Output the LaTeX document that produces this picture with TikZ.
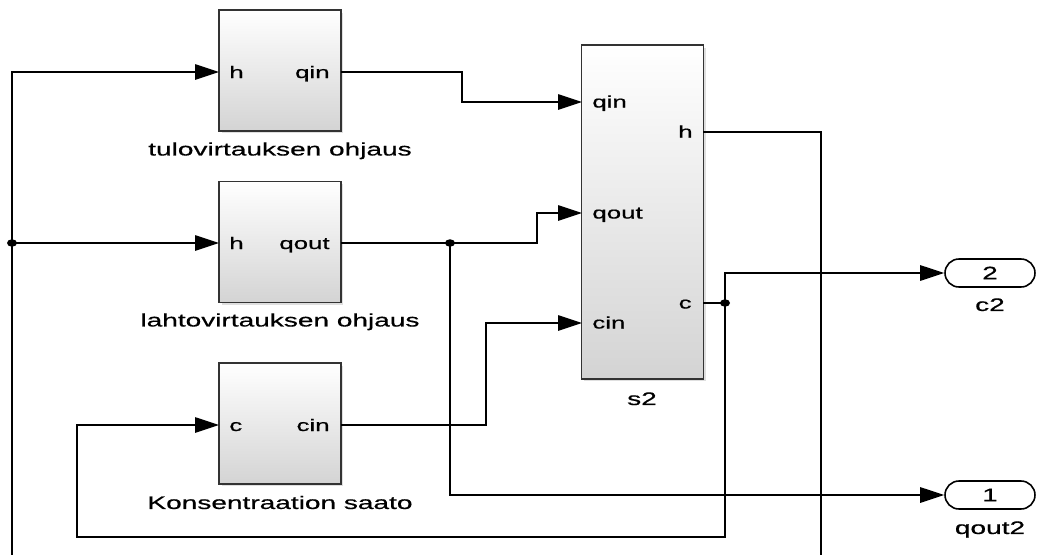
\documentclass[tikz,border=0pt]{standalone}
\usepackage{fontspec}
\setmainfont[FakeStretch=1.55,FakeBold=0.6]{Liberation Sans}
\usetikzlibrary{arrows.meta,shadows}

\begin{document}
\begin{tikzpicture}[x=0.02cm,y=-0.02cm,
    blk/.style={draw=black!80, line width=1.1pt, top color=white, bottom color=black!17,
      minimum width=2.44cm, inner sep=0pt,
      drop shadow={shadow xshift=0.05cm, shadow yshift=-0.05cm, opacity=0.25}},
    sig/.style={line width=0.7pt},
    arr/.style={sig, -{Triangle[length=0.48cm,width=0.31cm]}},
    port/.style={font=\fontsize{9.5}{10}\selectfont, inner sep=0pt},
    lbl/.style={font=\fontsize{10.3}{12}\selectfont, inner sep=0pt, anchor=north},
    oport/.style={draw, line width=0.9pt, rounded corners=0.28cm, minimum width=1.8cm,
      minimum height=0.56cm, inner sep=0pt, font=\fontsize{10.3}{12}\selectfont}]
    \useasboundingbox (0,0) rectangle (1039,555);

    % subsystems
    \node[blk, minimum height=2.42cm] (tulo) at (280,70.5) {};
    \node[blk, minimum height=2.42cm] (lahto) at (280,242) {};
    \node[blk, minimum height=2.42cm] (kons) at (280,423.5) {};
    \node[blk, minimum height=6.68cm] (s2) at (642.5,212) {};

    \node[lbl] (tulolbl) at (280,142) {tulovirtauksen ohjaus};
    \node[lbl] (lahtolbl) at (280,313) {lahtovirtauksen ohjaus};
    \node[lbl] (konslbl) at (280,495.5) {Konsentraation saato};
    \node[lbl] (s2lbl) at (642,392) {s2};

    % port names
    \node[port, anchor=base west] (tulo-hl) at (229,78) {h};
    \node[port, anchor=base east] (tulo-qinl) at (330,78) {qin};
    \node[port, anchor=base west] (lahto-hl) at (229,249) {h};
    \node[port, anchor=base east] (lahto-qoutl) at (330,249) {qout};
    \node[port, anchor=base west] (kons-cl) at (229,431) {c};
    \node[port, anchor=base east] (kons-cinl) at (330,431) {cin};
    \node[port, anchor=base west] (s2-qinl) at (592,107.5) {qin};
    \node[port, anchor=base west] (s2-qoutl) at (592,218.5) {qout};
    \node[port, anchor=base west] (s2-cinl) at (592,328.5) {cin};
    \node[port, anchor=base east] (s2-hl) at (693,137.5) {h};
    \node[port, anchor=base east] (s2-cl) at (692,308.5) {c};

    % outports
    \node[oport] (o2) at (990,273) {2};
    \node[oport] (o1) at (990,495) {1};
    \node[lbl] (o2lbl) at (990,298) {c2};
    \node[lbl] (o1lbl) at (990,521) {qout2};

    % port points
    \coordinate (tulo-h) at (219,72);
    \coordinate (tulo-qin) at (341,72);
    \coordinate (lahto-h) at (219,243);
    \coordinate (lahto-qout) at (341,243);
    \coordinate (kons-c) at (219,425);
    \coordinate (kons-cin) at (341,425);
    \coordinate (s2-qin) at (582,102);
    \coordinate (s2-qout) at (582,213);
    \coordinate (s2-cin) at (582,323);
    \coordinate (s2-h) at (703,132);
    \coordinate (s2-c) at (703,303);

    % branch points and loose ends
    \coordinate (jh) at (12,243);
    \coordinate (jq) at (450,243);
    \coordinate (jc) at (725,303);
    \coordinate (hbot) at (12,555);
    \coordinate (hend) at (821,555);
    \coordinate (cloop) at (77,537);

    % signals
    \draw[arr] (hbot) |- (tulo-h);
    \draw[arr] (jh) -- (lahto-h);
    \draw[arr] (tulo-qin) -- ++(121,0) |- (s2-qin);
    \draw[sig] (lahto-qout) -- (jq);
    \draw[arr] (jq) -- ++(87,0) |- (s2-qout);
    \draw[arr] (jq) |- (o1.west);
    \draw[arr] (kons-cin) -- ++(145,0) |- (s2-cin);
    \draw[sig] (s2-c) -- (jc);
    \draw[arr] (jc) |- (o2.west);
    \draw[arr] (jc) |- (cloop) |- (kons-c);
    \draw[sig] (s2-h) -| (hend);

    \foreach \j in {jh,jq,jc}
        \fill (\j) ellipse [x radius=0.1cm, y radius=0.075cm];
\end{tikzpicture}
\end{document}
